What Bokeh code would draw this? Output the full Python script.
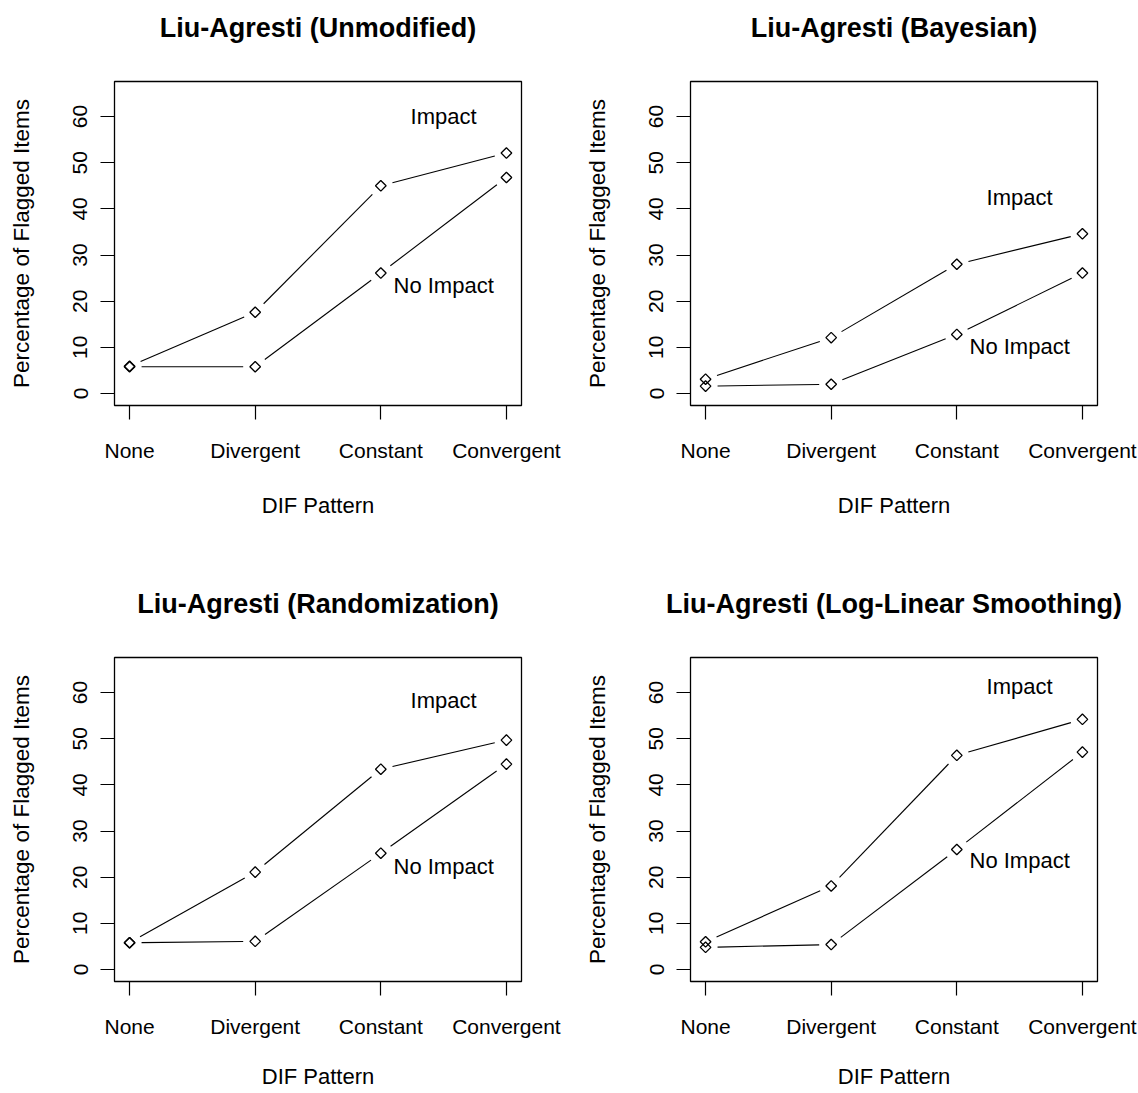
import numpy as np
from bokeh.plotting import figure
from bokeh.layouts import gridplot
from bokeh.models import Range1d, FixedTicker, ColumnDataSource, Title
from bokeh.embed import file_html
from bokeh.resources import INLINE
from bokeh.core.properties import value

# ---------------- data ----------------
categories = ["None", "Divergent", "Constant", "Convergent"]
x_pos = [1, 2, 3, 4]
y_ticks = [0, 10, 20, 30, 40, 50, 60]

titles = ["Liu-Agresti (Unmodified)", "Liu-Agresti (Bayesian)",
          "Liu-Agresti (Randomization)", "Liu-Agresti (Log-Linear Smoothing)"]

unmod_impact = [5.9, 17.6, 45.0, 52.1]
unmod_noimpact = [5.8, 5.8, 26.1, 46.8]
bayes_impact = [3.1, 12.1, 28.0, 34.6]
bayes_noimpact = [1.6, 2.0, 12.8, 26.1]
rand_impact = [5.8, 21.1, 43.4, 49.7]
rand_noimpact = [5.8, 6.1, 25.2, 44.5]
loglin_impact = [6.0, 18.1, 46.4, 54.2]
loglin_noimpact = [4.8, 5.4, 26.0, 47.1]

label_x = 3.5
impact_label_y = [60, 42.5, 58.2, 61.4]
noimpact_label_y = [23.4, 10.1, 22.4, 23.6]

series = [(unmod_impact, unmod_noimpact), (bayes_impact, bayes_noimpact),
          (rand_impact, rand_noimpact), (loglin_impact, loglin_noimpact)]

# ---------------- layout ----------------
FONT = "Liberation Sans"
FW, FH = 407, 324
X0, X1 = 0.88, 4.12
Y0, Y1 = -2.6, 67.6
col_w = [576, 562]
col_left = [114, 114]
row_h = [574, 519]
row_top = [81, 83]
xlab_standoff = [28, 23]
GAP = 12  # px gap between line ends and points (R type="b")


def gapped_segments(xs, ys):
    """Line pieces between consecutive points, shortened near the points."""
    sx = FW / (X1 - X0)
    sy = FH / (Y1 - Y0)
    out = {"x0": [], "y0": [], "x1": [], "y1": []}
    for a in range(len(xs) - 1):
        dx = (xs[a + 1] - xs[a]) * sx
        dy = (ys[a + 1] - ys[a]) * sy
        L = np.hypot(dx, dy)
        if L <= 2 * GAP:
            continue
        f = GAP / L
        out["x0"].append(xs[a] + (xs[a + 1] - xs[a]) * f)
        out["y0"].append(ys[a] + (ys[a + 1] - ys[a]) * f)
        out["x1"].append(xs[a + 1] - (xs[a + 1] - xs[a]) * f)
        out["y1"].append(ys[a + 1] - (ys[a + 1] - ys[a]) * f)
    return out


def make_panel(i):
    r, c = divmod(i, 2)
    w, h = col_w[c], row_h[r]
    p = figure(width=w, height=h, output_backend="svg", toolbar_location=None,
               title=None,
               x_range=Range1d(X0, X1), y_range=Range1d(Y0, Y1),
               min_border_left=col_left[c], min_border_right=w - col_left[c] - FW,
               min_border_top=row_top[r], min_border_bottom=h - row_top[r] - FH)
    p.background_fill_color = "white"
    p.border_fill_color = "white"
    p.outline_line_color = "black"
    p.outline_line_width = 1.3
    p.xgrid.visible = False
    p.ygrid.visible = False

    # spacer between frame and title, then the title itself
    p.add_layout(Title(text=" ", text_font_size="1px", standoff=31), "above")
    p.add_layout(Title(text=titles[i], align="center", text_font=FONT,
                       text_font_size="27px", text_font_style="bold",
                       text_color="black", standoff=10), "above")

    for ax in (p.xaxis[0], p.yaxis[0]):
        ax.axis_line_color = None
        ax.major_tick_out = 14
        ax.major_tick_in = 0
        ax.minor_tick_line_color = None
        ax.major_tick_line_color = "black"
        ax.major_tick_line_width = 1.2
        ax.major_label_text_font = FONT
        ax.major_label_text_font_size = "21px"
        ax.major_label_text_color = "black"
        ax.axis_label_text_font = FONT
        ax.axis_label_text_font_size = "22px"
        ax.axis_label_text_font_style = "normal"
        ax.axis_label_text_color = "black"

    p.xaxis.ticker = FixedTicker(ticks=x_pos)
    p.xaxis.major_label_overrides = {x: cat for x, cat in zip(x_pos, categories)}
    p.xaxis.axis_label = "DIF Pattern"
    p.xaxis.major_label_standoff = 19
    p.xaxis.axis_label_standoff = xlab_standoff[r]

    p.yaxis.ticker = FixedTicker(ticks=y_ticks)
    p.yaxis.major_label_orientation = "vertical"
    p.yaxis.axis_label = "Percentage of Flagged Items"
    p.yaxis.axis_label_text_font_size = "22.5px"
    p.yaxis.major_label_standoff = 13
    p.yaxis.axis_label_standoff = 37

    imp, noimp = series[i]
    for ys in (imp, noimp):
        seg = ColumnDataSource(gapped_segments(x_pos, ys))
        p.segment("x0", "y0", "x1", "y1", source=seg,
                  line_color="black", line_width=1.1)
    for ys in (imp, noimp):
        src = ColumnDataSource(dict(x=x_pos, y=ys))
        p.scatter("x", "y", source=src, marker="square", angle=np.pi / 4,
                  size=7.5, fill_color=None, line_color="black", line_width=1.3)

    lab = ColumnDataSource(dict(x=[label_x, label_x],
                                y=[impact_label_y[i], noimpact_label_y[i]],
                                t=["Impact", "No Impact"]))
    p.text("x", "y", text="t", source=lab, text_font=value(FONT),
           text_font_size="22px", text_align="center", text_baseline="middle",
           text_color="black")
    return p


panels = [make_panel(i) for i in range(4)]
grid = gridplot([[panels[0], panels[1]], [panels[2], panels[3]]],
                toolbar_location=None)

open("out.html", "w").write(file_html(grid, INLINE))
